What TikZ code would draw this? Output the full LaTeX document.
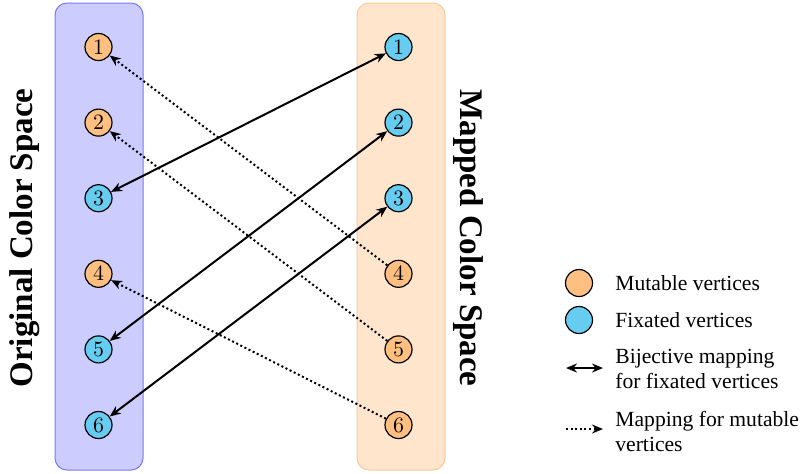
\documentclass[tikz,border=0pt]{standalone}
\usepackage[no-math]{fontspec}
\setmainfont{Liberation Serif}
\usetikzlibrary{arrows.meta}
\definecolor{panelBfill}{RGB}{204,204,255}
\definecolor{panelBdraw}{RGB}{120,120,250}
\definecolor{panelOfill}{RGB}{255,229,204}
\definecolor{panelOdraw}{RGB}{255,200,150}
\definecolor{mutfill}{RGB}{255,191,128}
\definecolor{fixfill}{RGB}{102,204,240}
\tikzset{
  vtx/.style={circle,draw=black,line width=0.6pt,minimum size=13.5pt,inner sep=0pt,font=\fontsize{10.5}{12}\selectfont},
  mut/.style={vtx,fill=mutfill},
  fix/.style={vtx,fill=fixfill},
  bij/.style={line width=1pt,{Stealth[length=5.5pt,width=4.5pt]}-{Stealth[length=5.5pt,width=4.5pt]}},
  mmap/.style={line width=1pt,dash pattern=on 1pt off 1.3pt,-{Stealth[length=5.5pt,width=4.5pt]}},
  spacelabel/.style={font=\fontsize{16.5}{20}\selectfont\bfseries},
  legtext/.style={anchor=west,align=left,inner sep=0pt,font=\fontsize{10.8}{12.5}\selectfont},
}
\begin{document}
\begin{tikzpicture}[x=0.5pt,y=-0.5pt]
\useasboundingbox (0,0) rectangle (801,473);
\draw[fill=panelBfill,draw=panelBdraw,line width=0.5pt,rounded corners=6pt] (55,3) rectangle (143,470);
\draw[fill=panelOfill,draw=panelOdraw,line width=0.5pt,rounded corners=6pt] (357,3) rectangle (445,470);
\node[spacelabel,rotate=90] (lo) at (25,238) {Original Color Space};
\node[spacelabel,rotate=-90] (lm) at (468,238) {Mapped Color Space};
% left nodes
\node[mut] (L1) at (98.5,47) {$1$};
\node[mut] (L2) at (98.5,122.6) {$2$};
\node[fix] (L3) at (98.5,198.2) {$3$};
\node[mut] (L4) at (98.5,273.8) {$4$};
\node[fix] (L5) at (98.5,349.4) {$5$};
\node[fix] (L6) at (98.5,425) {$6$};
% right nodes
\node[fix] (R1) at (398.5,47) {$1$};
\node[fix] (R2) at (398.5,122.6) {$2$};
\node[fix] (R3) at (398.5,198.2) {$3$};
\node[mut] (R4) at (398.5,273.8) {$4$};
\node[mut] (R5) at (398.5,349.4) {$5$};
\node[mut] (R6) at (398.5,425) {$6$};
% connectors
\draw[bij] (L3) -- (R1);
\draw[bij] (L5) -- (R2);
\draw[bij] (L6) -- (R3);
\draw[mmap] (R4) -- (L1);
\draw[mmap] (R5) -- (L2);
\draw[mmap] (R6) -- (L4);
% legend
\node[mut] (k1) at (579,283) {};
\node[fix] (k2) at (579,320) {};
\node[legtext] (t1) at (615,283) {Mutable vertices};
\node[legtext] (t2) at (615,320) {Fixated vertices};
\coordinate (a1) at (566,368);
\coordinate (a2) at (603,368);
\coordinate (b1) at (566,429);
\coordinate (b2) at (603,429);
\draw[bij] (a1) -- (a2);
\draw[mmap] (b1) -- (b2);
\node[legtext] (t3) at (615,369) {Bijective mapping\\for fixated vertices};
\node[legtext] (t4) at (615,431) {Mapping for mutable\\vertices};
\end{tikzpicture}
\end{document}
